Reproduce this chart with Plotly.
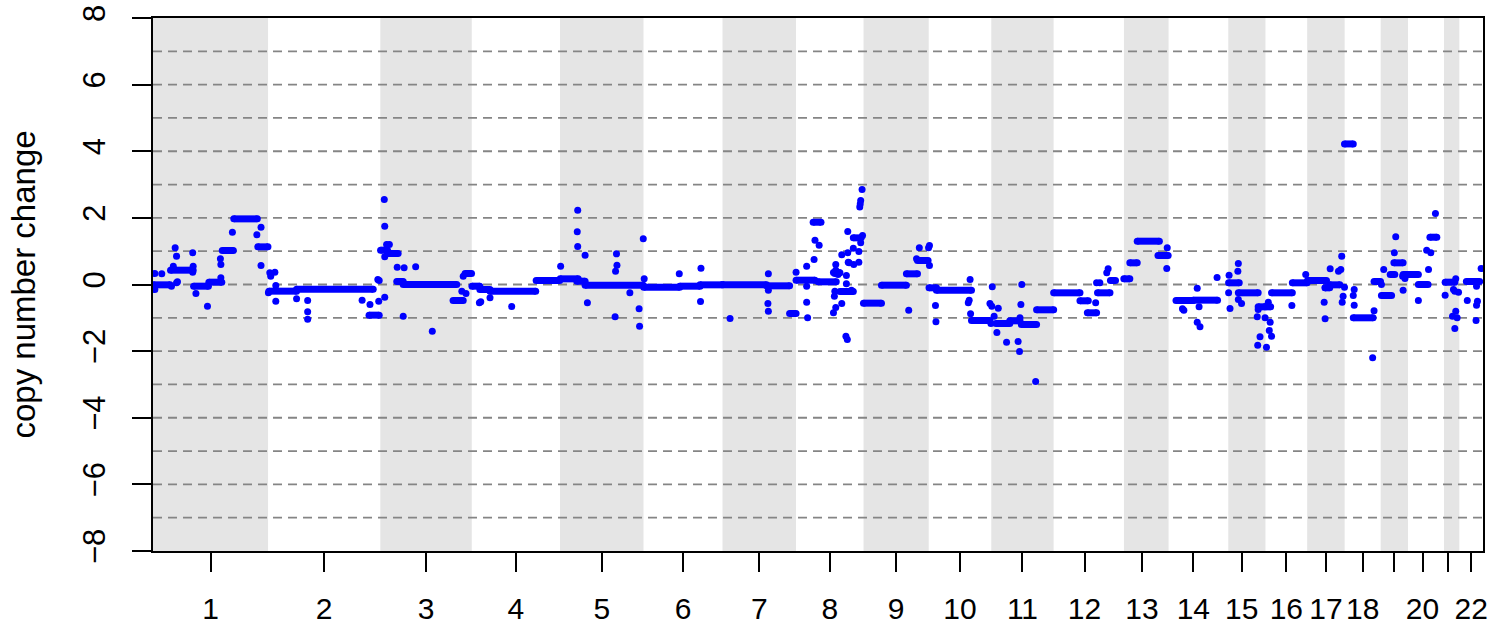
import plotly.graph_objects as go

# ---------------- data ----------------
chromosomes = [str(i) for i in range(1, 23)]
chrom_len_mb = [249.25, 243.20, 198.02, 191.15, 180.92, 171.12, 159.14, 146.36, 141.21, 135.53, 135.01,
                133.85, 115.17, 107.35, 102.53, 90.35, 81.20, 78.08, 59.13, 63.03, 48.13, 51.30]
first_probe_mb = [0, 0, 0, 0, 0, 0, 0, 0, 0, 0, 0, 0, 18.5, 19, 22, 0, 0, 0, 0, 0, 15, 16]
tick_text = ["1", "2", "3", "4", "5", "6", "7", "8", "9", "10", "11", "12", "13", "14", "15", "16",
             "17", "18", "", "20", "", "22"]
y_ticks = [-8, -6, -4, -2, 0, 2, 4, 6, 8]
grid_levels = [-7, -6, -5, -4, -3, -2, -1, 0, 1, 2, 3, 4, 5, 6, 7]

# segments (genome-wide Mb position)
seg_start = [1, 38, 88, 121, 150, 175, 227,
             251, 311, 468,
             493, 508, 528, 542, 650, 676,
             691, 708, 730, 830,
             882, 918, 936,
             1063, 1141, 1185,
             1234, 1329, 1379,
             1393, 1430, 1441, 1488, 1517,
             1539, 1578, 1632, 1656,
             1681, 1697, 1773,
             1826, 1856, 1881, 1914,
             1951, 2008, 2024, 2046, 2074,
             2103, 2116, 2132, 2177,
             2216, 2253,
             2330, 2351, 2394,
             2410, 2423, 2468,
             2501, 2539, 2549,
             2581, 2600, 2645,
             2661, 2680, 2688, 2708,
             2719, 2741, 2766,
             2799,
             2845]
seg_end = [37, 87, 120, 149, 174, 226, 249,
           311, 477, 490,
           508, 531, 542, 658, 672, 690,
           708, 730, 829, 881,
           921, 936, 1062,
           1141, 1185, 1233,
           1329, 1379, 1393,
           1434, 1447, 1480, 1517, 1534,
           1578, 1632, 1656, 1679,
           1697, 1773, 1813,
           1856, 1878, 1914, 1951,
           2008, 2026, 2044, 2073, 2085,
           2116, 2132, 2180, 2199,
           2253, 2306,
           2353, 2394, 2409,
           2421, 2468, 2500,
           2542, 2549, 2571,
           2600, 2643, 2659,
           2683, 2690, 2708, 2718,
           2741, 2762, 2781,
           2820,
           2874]
seg_cn = [-0.01, 0.43, -0.05, 0.07, 1.02, 1.97, 1.13,
          -0.20, -0.14, -0.92,
          1.03, 0.93, 0.09, 0.0, -0.48, 0.33,
          -0.05, -0.15, -0.20, 0.12,
          0.17, 0.10, -0.02,
          -0.08, -0.05, -0.01,
          -0.01, -0.04, -0.87,
          0.13, 1.87, 0.08, -0.21, 1.40,
          -0.56, -0.02, 0.32, 0.72,
          -0.10, -0.17, -1.08,
          -1.17, -1.09, -1.20, -0.76,
          -0.25, -0.49, -0.85, -0.25, 0.12,
          0.17, 0.65, 1.30, 0.87,
          -0.48, -0.47,
          0.05, -0.25, -0.67,
          -0.67, -0.25, 0.05,
          0.12, -0.10, -0.01,
          4.22, -1.00, 0.09,
          -0.33, 0.30, 0.65, 0.30,
          0.30, 0.0, 1.42,
          0.07,
          0.09]

# individual probes off the segments
pt_pos = [4, 19, 4, 40, 48, 51, 44, 51, 53, 86, 87, 86, 93, 118, 147, 147, 146, 172, 225, 234, 234,
          253, 255, 264, 250, 266, 266, 311, 335, 335, 335, 453, 470, 489, 490, 487,
          502, 501, 502, 506, 512, 502, 529, 544, 569, 542, 605, 672, 669, 678,
          707, 710, 730, 777,
          883, 920, 919, 920, 936, 941, 1004, 1005, 1002, 1001, 1033, 1053, 1054, 1062, 1064,
          1140, 1187, 1186,
          1250, 1333, 1333, 1332, 1333,
          1393, 1416, 1416, 1416, 1418, 1434, 1443, 1432, 1479, 1477, 1484, 1492, 1505, 1505, 1506, 1508,
          1518, 1529, 1517, 1529, 1533, 1537, 1531, 1533, 1536, 1474, 1476, 1479, 1492, 1477, 1501, 1504,
          1502, 1502, 1513, 1488, 1479, 1532, 1474, 1486,
          1637, 1660, 1682, 1680, 1654, 1682,
          1695, 1696, 1770, 1768, 1766, 1771,
          1818, 1813, 1817, 1822, 1831, 1815, 1828, 1849, 1874, 1877, 1878, 1880, 1882, 1912,
          2042, 2044, 2066, 2069, 2051,
          2197, 2196,
          2233, 2230, 2262, 2266, 2262, 2268, 2305,
          2331, 2330, 2333, 2351, 2350, 2351, 2358, 2392, 2394, 2398, 2393,
          2416, 2409, 2412, 2420, 2423, 2418, 2467,
          2497, 2550, 2539, 2537, 2539, 2568, 2573, 2575, 2578, 2576, 2581,
          2602, 2600, 2602, 2642, 2645,
          2661, 2666, 2689, 2692, 2707, 2708, 2712,
          2741, 2759, 2768, 2763, 2778,
          2799, 2822, 2817, 2820, 2828, 2822, 2815, 2825, 2820,
          2847, 2867, 2869, 2867, 2866, 2877]
pt_cn = [0.33, 0.32, -0.15, -0.05, 1.10, 0.85, 0.55, 0.05, 0.08, 0.95, 0.55, 0.37, -0.27, -0.65, 0.20, 0.60,
         0.77, 1.57, 1.49, 1.72, 0.57,
         0.35, 0.25, 0.37, -0.25, -0.50, -0.03, -0.43, -0.48, -0.82, -1.04, -0.47, -0.60, -0.50, 0.12, 0.15,
         -0.38, 2.55, 1.75, 1.20, 1.20, 0.83, 0.52, 0.50, 0.53, -0.95, -1.40, 0.25, -0.20, -0.27,
         -0.55, -0.52, -0.40, -0.66,
         0.55, 2.23, 1.58, 1.14, 0.88, -0.55, 0.92, 0.58, 0.40, -0.97, -0.25, -0.73, -1.25, 1.37, 0.17,
         0.32, 0.49, -0.51,
         -1.02, 0.32, -0.17, -0.57, -0.80,
         0.37, 0.55, -0.05, -0.53, -1.00, 1.33, 1.18, 0.75, 0.60, 0.33, 0.30, 0.89, 1.59, 0.95, 0.67, 0.65,
         0.60, 0.67, 1.09, 0.99, 1.25, 1.47, 2.33, 2.52, 2.85, -0.85, -0.35, -0.69, -0.57, -0.20, -1.55, -1.65,
         0.27, 0.02, -0.17, 0.35, 0.43, 2.42, 0.36, 0.36,
         -0.77, 1.10, 1.17, 1.10, 0.77, 0.57,
         -0.63, -1.12, 0.15, -0.47, -0.55, -0.88,
         -0.07, -0.57, -0.65, -0.95, -0.71, -1.17, -1.44, -1.73, -1.71, -2.01, -1.00, -0.60, 0.00, -2.91,
         -0.55, 0.05, 0.35, 0.47, 0.05,
         1.10, 0.48,
         -0.77, -0.73, -0.11, -0.67, -1.13, -1.27, 0.21,
         0.28, -0.25, -0.72, 0.63, 0.40, -0.45, -0.57, -0.97, -0.75, -1.57, -1.82,
         -0.53, -1.00, -1.88, -1.13, -1.55, -1.38, -0.63,
         0.30, 0.47, -0.10, -0.53, -1.03, 0.40, 0.45, 0.85, -0.35, -0.53, -0.08,
         -0.15, -0.33, -0.62, -2.20, -0.79,
         0.0, 0.45, 0.95, 1.43, 0.25, -0.17, 0.18,
         -0.48, 1.03, 0.95, 0.45, 2.13,
         -0.32, 0.17, -0.15, -0.20, -0.23, -0.80, -0.95, -1.00, -1.32,
         -0.48, -0.05, -0.50, -0.62, -1.08, 0.48]

# ---------------- derived ----------------
chrom_start = []
acc = 0.0
for L in chrom_len_mb:
    chrom_start.append(acc)
    acc += L
genome_len = acc
chrom_mid = [s + L / 2 for s, L in zip(chrom_start, chrom_len_mb)]

BLUE = "#0000FF"
fig = go.Figure()

# bands for odd chromosomes
shapes = []
for i, (s, L, fp) in enumerate(zip(chrom_start, chrom_len_mb, first_probe_mb)):
    if i % 2 == 0:
        shapes.append(dict(type="rect", xref="x", yref="y", x0=s + fp, x1=s + L, y0=-8, y1=8,
                           fillcolor="#E5E5E5", line=dict(width=0), layer="below"))
for g in grid_levels:
    shapes.append(dict(type="line", xref="x", yref="y", x0=0, x1=genome_len, y0=g, y1=g,
                       line=dict(color="#858585", width=1.8, dash="9px,6px"), layer="below"))

# segment lines
lx, ly = [], []
for a, b, v in zip(seg_start, seg_end, seg_cn):
    lx += [a, b, None]
    ly += [v, v, None]
fig.add_trace(go.Scatter(x=lx, y=ly, mode="lines", line=dict(color=BLUE, width=7),
                         hoverinfo="skip", showlegend=False))
# rounded ends of segments + individual probes
mx = list(seg_start) + list(seg_end) + list(pt_pos)
my = list(seg_cn) + list(seg_cn) + list(pt_cn)
fig.add_trace(go.Scatter(x=mx, y=my, mode="markers", marker=dict(color=BLUE, size=7, line=dict(width=0)),
                         hoverinfo="skip", showlegend=False))

FONT = "Liberation Sans, Arial, Helvetica, sans-serif"
fig.update_layout(
    width=1490, height=630,
    margin=dict(l=153, r=7, t=18, b=79, autoexpand=False),
    paper_bgcolor="white", plot_bgcolor="white",
    shapes=shapes,
    font=dict(family=FONT, color="black", size=30),
    xaxis=dict(range=[0, genome_len], tickmode="array", tickvals=chrom_mid, ticktext=tick_text,
               ticks="outside", ticklen=19, tickwidth=2, tickcolor="black",
               showline=True, linecolor="black", linewidth=2, mirror=True, ticklabeloverflow="allow",
               showgrid=False, zeroline=False, tickfont=dict(size=30), ticklabelstandoff=11),
    yaxis=dict(range=[-8, 8], tickmode="array", tickvals=y_ticks,
               ticks="outside", ticklen=19, tickwidth=2, tickcolor="black", tickangle=-90,
               showline=True, linecolor="black", linewidth=2, mirror=True, ticklabeloverflow="allow",
               showgrid=False, zeroline=False, tickfont=dict(size=31), ticklabelstandoff=15),
    annotations=[dict(text="copy number change", xref="paper", yref="paper", x=-0.0977, y=0.5,
                      xanchor="center", yanchor="middle", textangle=-90, showarrow=False,
                      font=dict(size=33, family=FONT, color="black"))],
)

fig.write_html("out.html", config={"displayModeBar": False, "staticPlot": True},
               post_script="document.body.style.margin='0';document.body.style.overflow='hidden';")
